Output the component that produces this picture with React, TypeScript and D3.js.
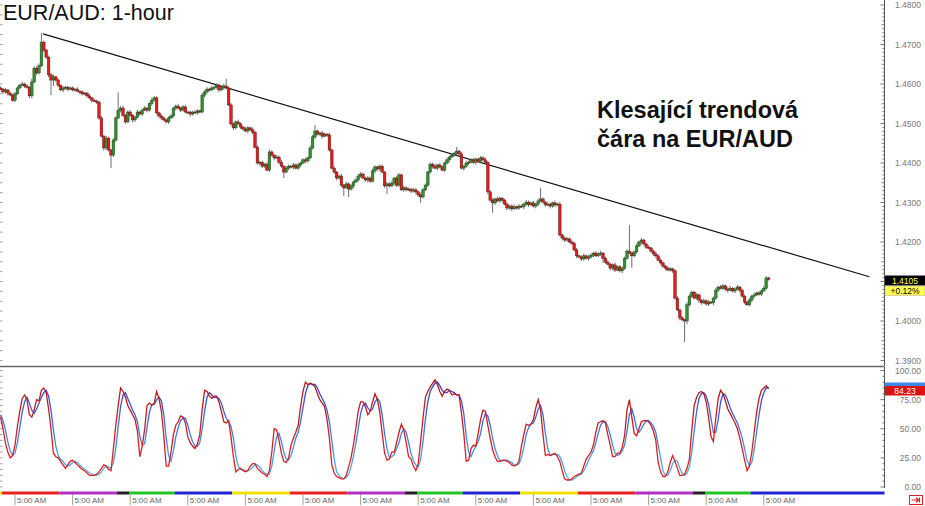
import React from 'react';
import * as d3 from 'd3';

// ---------- DATA ----------
const firstOpen = 1.459;
const closes = [
  1.4587, 1.4580, 1.4585, 1.4577, 1.4572, 1.4559, 1.4575, 1.4590, 1.4597, 1.4600,
  1.4595, 1.4592, 1.4570, 1.4605, 1.4640, 1.4628, 1.4646, 1.4706, 1.4686, 1.4668,
  1.4623, 1.4610, 1.4618, 1.4610, 1.4597, 1.4585, 1.4590, 1.4592, 1.4587, 1.4590,
  1.4585, 1.4587, 1.4582, 1.4580, 1.4575, 1.4577, 1.4570, 1.4565, 1.4559, 1.4557,
  1.4554, 1.4514, 1.4468, 1.4438, 1.4463, 1.4433, 1.4420, 1.4458, 1.4514, 1.4534,
  1.4539, 1.4521, 1.4504, 1.4529, 1.4521, 1.4509, 1.4516, 1.4529, 1.4524, 1.4534,
  1.4539, 1.4534, 1.4550, 1.4559, 1.4565, 1.4527, 1.4519, 1.4514, 1.4509, 1.4504,
  1.4514, 1.4519, 1.4539, 1.4544, 1.4539, 1.4534, 1.4542, 1.4529, 1.4529, 1.4524,
  1.4529, 1.4527, 1.4532, 1.4529, 1.4572, 1.4580, 1.4587, 1.4585, 1.4590, 1.4592,
  1.4597, 1.4585, 1.4590, 1.4595, 1.4590, 1.4547, 1.4499, 1.4489, 1.4504, 1.4499,
  1.4491, 1.4486, 1.4481, 1.4489, 1.4484, 1.4478, 1.4440, 1.4400, 1.4402, 1.4392,
  1.4397, 1.4382, 1.4428, 1.4420, 1.4413, 1.4415, 1.4402, 1.4392, 1.4377, 1.4387,
  1.4392, 1.4390, 1.4395, 1.4387, 1.4395, 1.4400, 1.4408, 1.4405, 1.4413, 1.4438,
  1.4466, 1.4481, 1.4473, 1.4476, 1.4468, 1.4473, 1.4471, 1.4433, 1.4387, 1.4377,
  1.4362, 1.4367, 1.4344, 1.4337, 1.4347, 1.4334, 1.4342, 1.4352, 1.4357, 1.4367,
  1.4372, 1.4362, 1.4357, 1.4362, 1.4354, 1.4380, 1.4390, 1.4385, 1.4392, 1.4377,
  1.4342, 1.4347, 1.4342, 1.4349, 1.4362, 1.4344, 1.4370, 1.4332, 1.4337, 1.4332,
  1.4334, 1.4329, 1.4332, 1.4327, 1.4319, 1.4314, 1.4332, 1.4344, 1.4377, 1.4397,
  1.4392, 1.4387, 1.4395, 1.4390, 1.4382, 1.4400, 1.4408, 1.4415, 1.4420, 1.4425,
  1.4430, 1.4423, 1.4387, 1.4392, 1.4400, 1.4402, 1.4408, 1.4402, 1.4410, 1.4405,
  1.4413, 1.4408, 1.4402, 1.4327, 1.4306, 1.4299, 1.4309, 1.4304, 1.4311, 1.4306,
  1.4296, 1.4286, 1.4291, 1.4284, 1.4289, 1.4286, 1.4291, 1.4289, 1.4296, 1.4301,
  1.4294, 1.4299, 1.4291, 1.4296, 1.4304, 1.4309, 1.4301, 1.4294, 1.4296, 1.4291,
  1.4299, 1.4294, 1.4296, 1.4218, 1.4210, 1.4205, 1.4208, 1.4200, 1.4197, 1.4180,
  1.4165, 1.4162, 1.4157, 1.4165, 1.4159, 1.4162, 1.4167, 1.4172, 1.4165, 1.4170,
  1.4172, 1.4159, 1.4149, 1.4144, 1.4134, 1.4142, 1.4129, 1.4137, 1.4127, 1.4134,
  1.4159, 1.4177, 1.4172, 1.4165, 1.4175, 1.4190, 1.4200, 1.4205, 1.4195, 1.4187,
  1.4185, 1.4177, 1.4170, 1.4165, 1.4154, 1.4147, 1.4139, 1.4134, 1.4129, 1.4132,
  1.4127, 1.4058, 1.4028, 1.4008, 1.4003, 1.4000, 1.4041, 1.4063, 1.4073, 1.4058,
  1.4066, 1.4053, 1.4046, 1.4051, 1.4043, 1.4048, 1.4046, 1.4058, 1.4078, 1.4086,
  1.4083, 1.4089, 1.4081, 1.4078, 1.4083, 1.4076, 1.4081, 1.4086, 1.4078, 1.4063,
  1.4048, 1.4041, 1.4053, 1.4063, 1.4066, 1.4071, 1.4068, 1.4076, 1.4083, 1.4109,
  1.4105,
];
// wick lengths above / below the candle body, in pips
const wickUp = [
  4, 3, 5, 2, 4, 3, 5, 4, 3, 6, 3, 4, 2, 8, 5, 4, 6, 23, 4, 3,
  4, 5, 6, 3, 4, 2, 5, 3, 4, 3, 4, 3, 5, 2, 4, 3, 3, 5, 2, 4,
  3, 4, 5, 3, 6, 4, 3, 5, 4, 45, 5, 6, 3, 4, 5, 3, 4, 6, 3, 4,
  5, 3, 4, 6, 5, 4, 3, 5, 4, 3, 4, 5, 3, 4, 6, 3, 5, 4, 3, 4,
  3, 5, 4, 3, 6, 4, 5, 3, 6, 4, 5, 4, 3, 6, 18, 4, 5, 3, 4, 6,
  4, 3, 5, 4, 3, 6, 4, 5, 3, 4, 3, 5, 6, 4, 3, 5, 4, 6, 3, 5,
  4, 3, 5, 4, 6, 3, 4, 5, 3, 6, 5, 15, 4, 3, 5, 4, 3, 6, 4, 5,
  3, 4, 5, 3, 6, 4, 5, 3, 4, 6, 5, 4, 3, 5, 4, 6, 4, 3, 5, 4,
  3, 5, 4, 6, 3, 5, 4, 3, 6, 4, 4, 3, 5, 4, 3, 6, 5, 4, 3, 5,
  4, 6, 3, 5, 4, 3, 6, 4, 5, 3, 10, 4, 5, 3, 6, 4, 3, 5, 4, 3,
  5, 4, 6, 3, 4, 5, 3, 6, 4, 3, 4, 5, 3, 4, 6, 3, 5, 4, 3, 5,
  4, 3, 5, 4, 6, 28, 4, 3, 5, 4, 3, 6, 4, 5, 3, 4, 5, 3, 6, 4,
  5, 3, 4, 6, 3, 5, 4, 3, 5, 4, 6, 3, 4, 5, 3, 4, 6, 3, 5, 4,
  4, 5, 66, 4, 3, 6, 4, 5, 3, 4, 5, 3, 4, 6, 3, 5, 4, 3, 5, 4,
  3, 4, 5, 3, 4, 3, 6, 5, 4, 3, 5, 4, 3, 6, 4, 5, 3, 4, 6, 3,
  5, 4, 3, 5, 6, 3, 4, 5, 3, 4, 4, 3, 5, 4, 6, 3, 5, 4, 6, 5,
  3,
];
const wickDn = [
  3, 5, 4, 6, 3, 4, 5, 3, 4, 3, 5, 4, 6, 6, 3, 5, 4, 3, 5, 4,
  6, 38, 15, 4, 5, 3, 6, 4, 5, 3, 4, 5, 3, 6, 4, 3, 5, 4, 6, 3,
  4, 5, 3, 6, 5, 4, 33, 5, 4, 3, 6, 4, 5, 3, 4, 6, 5, 3, 4, 5,
  3, 6, 4, 5, 3, 4, 6, 5, 3, 4, 5, 3, 4, 6, 3, 5, 4, 3, 5, 6,
  4, 3, 5, 4, 3, 6, 5, 4, 3, 5, 4, 6, 3, 5, 4, 3, 5, 6, 4, 3,
  5, 4, 3, 6, 4, 5, 3, 4, 6, 5, 4, 3, 5, 4, 6, 3, 5, 4, 15, 3,
  5, 4, 6, 3, 4, 5, 3, 6, 4, 3, 4, 5, 3, 4, 6, 3, 5, 4, 3, 5,
  6, 4, 5, 20, 3, 20, 4, 6, 3, 5, 4, 3, 5, 6, 4, 3, 5, 4, 6, 3,
  5, 20, 4, 3, 6, 5, 4, 3, 5, 4, 3, 5, 4, 6, 5, 15, 4, 3, 5, 4,
  6, 3, 5, 4, 3, 5, 4, 6, 3, 4, 5, 4, 3, 6, 4, 5, 3, 4, 6, 3,
  4, 5, 3, 6, 4, 25, 5, 3, 4, 6, 3, 5, 4, 6, 3, 4, 5, 3, 6, 4,
  5, 3, 4, 6, 5, 3, 4, 5, 3, 6, 4, 5, 3, 4, 6, 5, 4, 3, 5, 4,
  6, 3, 5, 4, 3, 6, 4, 5, 3, 4, 5, 12, 4, 3, 6, 4, 5, 3, 4, 6,
  5, 4, 3, 30, 4, 5, 3, 6, 4, 5, 3, 4, 6, 5, 3, 4, 5, 6, 3, 4,
  5, 4, 3, 6, 4, 53, 8, 4, 5, 3, 4, 6, 5, 3, 4, 5, 3, 6, 4, 5,
  3, 4, 5, 6, 3, 4, 5, 3, 6, 4, 5, 3, 4, 6, 5, 3, 4, 5, 3, 4,
  3,
];
const stochK = [
  60, 50, 38, 30, 25, 27, 36, 52, 65, 76, 79, 75, 62, 60, 66, 75, 74, 83, 85, 81,
  67, 50, 29, 26, 25, 22, 19, 16, 19, 22, 23, 21, 19, 17, 15, 14, 12, 10, 10, 10,
  11, 13, 16, 19, 18, 15, 14, 33, 53, 70, 85, 82, 77, 70, 66, 62, 58, 48, 26, 35,
  49, 70, 72, 70, 72, 82, 76, 65, 44, 18, 18, 30, 45, 53, 56, 61, 60, 55, 43, 38,
  35, 33, 37, 45, 67, 83, 82, 78, 76, 78, 78, 73, 65, 56, 55, 57, 43, 26, 13, 15,
  16, 14, 13, 14, 18, 20, 20, 16, 14, 12, 11, 9, 14, 30, 50, 49, 40, 29, 22, 21,
  25, 36, 42, 47, 53, 69, 82, 90, 88, 89, 88, 86, 80, 75, 72, 69, 58, 42, 19, 12,
  9, 8, 7, 7, 10, 17, 25, 36, 50, 65, 73, 73, 69, 62, 65, 73, 80, 75, 64, 46,
  29, 23, 24, 30, 30, 38, 47, 54, 49, 38, 26, 24, 18, 14, 20, 39, 59, 77, 82, 86,
  89, 92, 88, 82, 78, 82, 84, 83, 79, 80, 79, 79, 64, 46, 22, 23, 33, 36, 35, 46,
  58, 66, 65, 53, 42, 32, 26, 22, 22, 23, 23, 22, 21, 19, 18, 19, 22, 35, 45, 54,
  53, 54, 58, 68, 75, 66, 45, 27, 28, 27, 28, 29, 26, 22, 14, 7, 6, 6, 7, 9,
  10, 11, 12, 18, 24, 27, 30, 36, 47, 55, 56, 57, 55, 45, 36, 26, 26, 29, 29, 34,
  44, 66, 75, 60, 46, 44, 50, 56, 57, 57, 56, 53, 48, 40, 21, 13, 9, 9, 13, 21,
  27, 22, 16, 10, 10, 11, 16, 24, 49, 70, 77, 81, 82, 80, 73, 60, 43, 39, 59, 76,
  83, 80, 74, 67, 63, 59, 55, 50, 42, 33, 23, 14, 18, 30, 47, 64, 76, 83, 85, 87,
  84.23,
];
const stochD = [
  62, 57, 49, 39, 31, 27, 29, 38, 51, 64, 73, 77, 72, 66, 63, 67, 72, 77, 81, 83,
  78, 66, 49, 35, 27, 24, 22, 19, 18, 19, 21, 22, 21, 19, 17, 15, 14, 12, 11, 10,
  10, 11, 13, 16, 18, 17, 16, 21, 33, 52, 69, 79, 81, 76, 71, 66, 62, 56, 44, 36,
  37, 51, 64, 71, 71, 75, 77, 74, 62, 42, 27, 22, 31, 43, 51, 57, 59, 59, 53, 45,
  39, 35, 35, 38, 50, 65, 77, 81, 79, 77, 77, 76, 72, 65, 59, 56, 52, 42, 27, 18,
  15, 15, 14, 14, 15, 17, 19, 19, 17, 14, 12, 11, 11, 18, 31, 43, 46, 39, 30, 24,
  23, 27, 34, 42, 47, 56, 68, 80, 87, 89, 88, 88, 85, 80, 76, 72, 66, 56, 40, 24,
  13, 10, 8, 7, 8, 11, 17, 26, 37, 50, 63, 70, 72, 68, 65, 67, 73, 76, 73, 62,
  46, 33, 25, 26, 28, 33, 38, 46, 50, 47, 38, 29, 23, 19, 17, 24, 39, 58, 73, 82,
  86, 89, 90, 87, 83, 81, 81, 83, 82, 81, 79, 79, 74, 63, 44, 30, 26, 31, 35, 39,
  46, 57, 63, 61, 53, 42, 33, 27, 23, 22, 23, 23, 22, 21, 19, 19, 20, 25, 34, 45,
  51, 54, 55, 60, 67, 70, 62, 46, 33, 27, 28, 28, 28, 26, 21, 14, 9, 6, 6, 7,
  9, 10, 11, 14, 18, 23, 27, 31, 38, 46, 53, 56, 56, 52, 45, 36, 29, 27, 28, 31,
  36, 48, 62, 67, 60, 50, 47, 50, 54, 57, 57, 55, 52, 47, 36, 25, 14, 10, 10, 14,
  20, 23, 22, 16, 12, 10, 12, 17, 30, 48, 65, 76, 80, 81, 78, 71, 59, 47, 47, 58,
  73, 80, 79, 74, 68, 63, 59, 55, 49, 42, 33, 23, 18, 21, 32, 47, 62, 74, 81, 85,
  85,
];
// 1.4100 is hidden behind the last-price badge in the reference
const priceTicks = [1.48, 1.47, 1.46, 1.45, 1.44, 1.43, 1.42, 1.40, 1.39];
const stochTicks = [100, 75, 50, 25, 0];
const timeLabelIdx = [6, 30, 54, 78, 102, 126, 150, 174, 198, 222, 246, 270, 294, 318];
const timeLabelText = '5:00 AM';
const bandStarts = [0, 1, 25, 49, 54, 73, 97, 121, 145, 169, 174, 193, 217, 241, 265, 289, 294, 313];
const bandColors = ['#f2e100', '#e8211e', '#b42ec4', '#222222', '#22c422', '#2424d6', '#f2e100', '#e8211e', '#b42ec4', '#222222', '#22c422', '#2424d6', '#f2e100', '#e8211e', '#b42ec4', '#222222', '#22c422', '#2424d6'];
const trendStart = { idx: 17.7, price: 1.4727 };
const trendEnd = { idx: 362, price: 1.4112 };
const title = 'EUR/AUD: 1-hour';
const noteLines = ['Klesající trendová', 'čára na EUR/AUD'];
const lastPrice = 1.4105;
const lastPriceText = '1.4105';
const lastChangeText = '+0.12%';
const lastStochText = '84.23';

// ---------- LAYOUT ----------
const W = 925;
const H = 506;
const AXIS_X = 884.5;
const FONT = '"Liberation Sans", Arial, Helvetica, sans-serif';

export default function App() {
  const n = closes.length;
  const x = d3.scaleLinear().domain([0, n - 1]).range([0.6, 0.6 + 2.4 * (n - 1)]);
  const y = d3.scaleLinear().domain([1.39, 1.48]).range([360.5, 5]);
  const ys = d3.scaleLinear().domain([0, 100]).range([487, 370.5]);

  const candles = closes.map((c, i) => {
    const o = i === 0 ? firstOpen : closes[i - 1];
    const hi = Math.max(o, c) + wickUp[i] / 10000;
    const lo = Math.min(o, c) - wickDn[i] / 10000;
    return { i, o, c, hi, lo };
  });

  const lineK = d3.line<number>().x((_, i) => x(i)).y((v) => ys(v));
  const minorPrice = d3.range(1.39, 1.4801, 0.001);
  const minorStoch = d3.range(0, 100.01, 5);
  const leftTicks = d3.range(1.39, 1.4801, 0.0025);
  const yLast = y(lastPrice);

  return (
    <svg width={W} height={H} style={{ position: 'absolute', left: 0, top: 0, background: '#fff' }} fontFamily={FONT}>
      <defs>
        <linearGradient id="gD" gradientUnits="userSpaceOnUse" x1="0" y1={370} x2="0" y2={487}>
          <stop offset="0" stopColor="#2b2bd0" />
          <stop offset="0.45" stopColor="#3d6ee8" />
          <stop offset="1" stopColor="#4ec3f0" />
        </linearGradient>
        <linearGradient id="gK" gradientUnits="userSpaceOnUse" x1="0" y1={370} x2="0" y2={487}>
          <stop offset="0" stopColor="#b01818" />
          <stop offset="1" stopColor="#f02020" />
        </linearGradient>
      </defs>
      <rect x={0} y={0} width={W} height={H} fill="#fff" />

      {/* left edge ticks */}
      {leftTicks.map((t, k) => (
        <line key={'lt' + k} x1={0} x2={2.5} y1={y(t)} y2={y(t)} stroke="#888" strokeWidth={0.8} />
      ))}
      {d3.range(0, 100.01, 5).map((t, k) => (
        <line key={'lts' + k} x1={0} x2={2.5} y1={ys(t)} y2={ys(t)} stroke="#888" strokeWidth={0.8} />
      ))}

      {/* trend line */}
      <line x1={x(trendStart.idx)} y1={y(trendStart.price)} x2={x(trendEnd.idx)} y2={y(trendEnd.price)} stroke="#111" strokeWidth={1.2} />

      {/* candles */}
      {candles.map((d) => (
        <line key={'w' + d.i} x1={x(d.i)} x2={x(d.i)} y1={y(d.hi)} y2={y(d.lo)} stroke="#6e6e6e" strokeWidth={1} />
      ))}
      {candles.map((d) => {
        const top = y(Math.max(d.o, d.c));
        const h = Math.max(1, y(Math.min(d.o, d.c)) - top);
        const up = d.c >= d.o;
        return (
          <rect key={'b' + d.i} x={x(d.i) - 1.3} y={top} width={2.6} height={h}
            fill={up ? '#2f922f' : '#e41c1c'} stroke={up ? '#1a3f1a' : '#5a0e0e'} strokeWidth={0.45} />
        );
      })}

      {/* title & note */}
      <text x={3} y={19.5} fontSize={21.5} fill="#111">{title}</text>
      {noteLines.map((t, k) => (
        <text key={'n' + k} x={597} y={118 + k * 29} fontSize={23.5} fontWeight="bold" fill="#111">{t}</text>
      ))}

      {/* panel separator */}
      <line x1={0} x2={AXIS_X} y1={366.5} y2={366.5} stroke="#666" strokeWidth={1.5} />

      {/* stochastic */}
      <path d={lineK(stochD) || ''} fill="none" stroke="url(#gD)" strokeWidth={1.3} />
      <path d={lineK(stochK) || ''} fill="none" stroke="url(#gK)" strokeWidth={1.3} />

      {/* right axis */}
      <line x1={AXIS_X} x2={AXIS_X} y1={0} y2={366} stroke="#555" strokeWidth={1} />
      <line x1={AXIS_X} x2={AXIS_X} y1={367} y2={488} stroke="#555" strokeWidth={1} />
      {minorPrice.map((t, k) => {
        const major = k % 10 === 0;
        const mid = k % 5 === 0;
        return <line key={'mp' + k} x1={AXIS_X - (major ? 4 : mid ? 3 : 2)} x2={AXIS_X} y1={y(t)} y2={y(t)} stroke="#555" strokeWidth={0.8} />;
      })}
      {priceTicks.map((t) => (
        <text key={'pt' + t} x={921} y={y(t) + 3} fontSize={8.5} textAnchor="end" fill="#777">{t.toFixed(4)}</text>
      ))}
      {minorStoch.map((t, k) => (
        <line key={'ms' + k} x1={AXIS_X - (k % 5 === 0 ? 4 : 2)} x2={AXIS_X} y1={ys(t)} y2={ys(t)} stroke="#555" strokeWidth={0.8} />
      ))}
      {stochTicks.map((t) => (
        <text key={'st' + t} x={921} y={ys(t) + 3} fontSize={8.5} textAnchor="end" fill="#777">{t.toFixed(2)}</text>
      ))}

      {/* last price badge */}
      <rect x={885} y={yLast - 4} width={40} height={10} fill="#000" />
      <text x={905} y={yLast + 4} fontSize={8.5} textAnchor="middle" fill="#ffff33">{lastPriceText}</text>
      <rect x={885} y={yLast + 6.5} width={40} height={9.5} fill="#ffff55" stroke="#aaa" strokeWidth={0.5} />
      <text x={905} y={yLast + 14} fontSize={8.5} textAnchor="middle" fill="#000">{lastChangeText}</text>

      {/* stochastic badges */}
      <rect x={885} y={382.5} width={40} height={3.5} fill="#3a8ae8" />
      <rect x={885} y={386} width={40} height={9.5} fill="#dd1111" />
      <text x={905} y={394} fontSize={8.5} textAnchor="middle" fill="#fff">{lastStochText}</text>

      {/* session bands */}
      {bandStarts.map((s, k) => {
        const x0 = s === 0 ? 0 : x(s) - 1.2;
        const x1 = k + 1 < bandStarts.length ? x(bandStarts[k + 1]) - 1.2 : AXIS_X;
        return <rect key={'bd' + k} x={x0} y={491.5} width={x1 - x0} height={3} fill={bandColors[k]} />;
      })}

      {/* time labels */}
      {timeLabelIdx.map((idx) => (
        <g key={'tl' + idx}>
          <line x1={x(idx)} x2={x(idx)} y1={494.5} y2={505} stroke="#888" strokeWidth={0.8} />
          <text x={x(idx) + 2} y={503} fontSize={8} fill="#666">{timeLabelText}</text>
        </g>
      ))}

      {/* scroll-to-end button */}
      <rect x={909.5} y={495.5} width={13} height={9} fill="#fff" stroke="#e02020" strokeWidth={1} />
      <path d="M911.5 500 H918.5 M916 497.8 L918.5 500 L916 502.2 M919.5 497.5 V502.5" stroke="#e02020" strokeWidth={1.2} fill="none" />
    </svg>
  );
}
